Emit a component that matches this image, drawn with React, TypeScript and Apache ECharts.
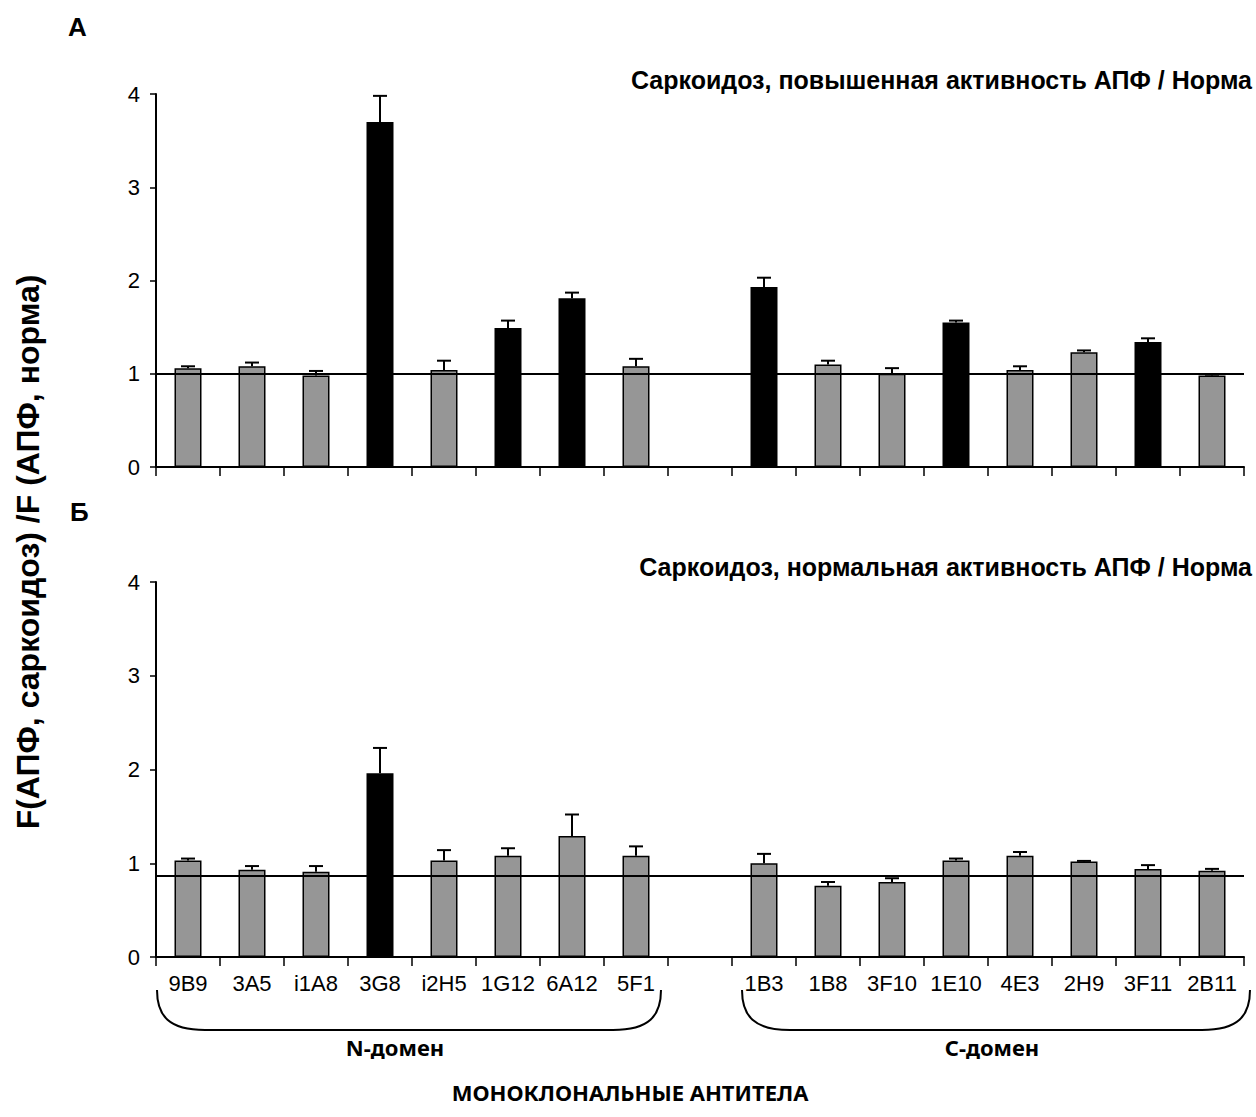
import React, { useEffect, useRef } from "react";
import * as echarts from "echarts";

const categories = ["9B9", "3A5", "i1A8", "3G8", "i2H5", "1G12", "6A12", "5F1", "", "1B3", "1B8", "3F10", "1E10", "4E3", "2H9", "3F11", "2B11"];
const yTicks = [0, 1, 2, 3, 4];

// Panel A: sarcoidosis, elevated ACE activity / norm
const topValues = [1.06, 1.08, 0.98, 3.70, 1.04, 1.49, 1.81, 1.08, null, 1.93, 1.10, 1.00, 1.55, 1.04, 1.23, 1.34, 0.98];
const topErrors = [0.02, 0.04, 0.05, 0.28, 0.10, 0.08, 0.06, 0.08, null, 0.10, 0.04, 0.06, 0.02, 0.04, 0.02, 0.04, 0.01];
const topSignificant = [false, false, false, true, false, true, true, false, false, true, false, false, true, false, false, true, false];
const topReference = 1.0;

// Panel B: sarcoidosis, normal ACE activity / norm
const bottomValues = [1.03, 0.93, 0.91, 1.96, 1.03, 1.08, 1.29, 1.08, null, 1.00, 0.76, 0.80, 1.03, 1.08, 1.02, 0.94, 0.92];
const bottomErrors = [0.02, 0.04, 0.06, 0.27, 0.11, 0.08, 0.23, 0.10, null, 0.10, 0.04, 0.04, 0.02, 0.04, 0.005, 0.04, 0.02];
const bottomSignificant = [false, false, false, true, false, false, false, false, false, false, false, false, false, false, false, false, false];
const bottomReference = 0.87;

const titleTop = "Саркоидоз, повышенная активность АПФ / Норма";
const titleBottom = "Саркоидоз, нормальная активность АПФ / Норма";
const yAxisTitle = "F(АПФ, саркоидоз) /F (АПФ, норма)";
const groupN = "N-домен";
const groupC = "С-домен";
const xAxisTitle = "МОНОКЛОНАЛЬНЫЕ АНТИТЕЛА";

const FONT = "'Liberation Sans', Arial, sans-serif";
const GRAY = "#969696";

echarts.graphic.registerShape(
  "braceN",
  echarts.graphic.extendPath("M0,0 C0,26 12,40 48,40 L456,40 C492,40 504,26 504,0", {})
);
echarts.graphic.registerShape(
  "braceC",
  echarts.graphic.extendPath("M0,0 C0,26 12,40 48,40 L460,40 C496,40 508,26 508,0", {})
);

function barData(values: (number | null)[], sig: boolean[]) {
  return values.map((v, i) =>
    v === null
      ? null
      : {
          value: v,
          itemStyle: { color: sig[i] ? "#000000" : GRAY, borderColor: "#000", borderWidth: 1.5 },
        }
  );
}

function errData(values: (number | null)[], errs: (number | null)[]) {
  const out: number[][] = [];
  values.forEach((v, i) => {
    if (v !== null && errs[i] !== null) out.push([i, v, errs[i] as number]);
  });
  return out;
}

const renderErr = (params: any, api: any) => {
  const x = api.value(0);
  const v = api.value(1);
  const e = api.value(2);
  const base = api.coord([x, v]);
  const top = api.coord([x, v + e]);
  const hw = 7;
  return {
    type: "group",
    children: [
      { type: "line", shape: { x1: base[0], y1: base[1], x2: top[0], y2: top[1] }, style: { stroke: "#000", lineWidth: 2 } },
      { type: "line", shape: { x1: top[0] - hw, y1: top[1], x2: top[0] + hw, y2: top[1] }, style: { stroke: "#000", lineWidth: 2 } },
    ],
  };
};

export default function App() {
  const ref = useRef<HTMLDivElement>(null);
  useEffect(() => {
    if (!ref.current) return;
    const chart = echarts.init(ref.current, null, { renderer: "svg" });
    const xAxisBase = (gridIndex: number, showLabel: boolean) => ({
      type: "category",
      gridIndex,
      data: categories,
      boundaryGap: true,
      axisLine: { show: true, lineStyle: { color: "#000", width: 2 } },
      axisTick: { show: true, inside: false, length: 9, interval: 0, alignWithLabel: false, lineStyle: { color: "#000", width: 1.5 } },
      axisLabel: { show: showLabel, interval: 0, color: "#000", fontSize: 22, fontFamily: FONT, margin: 15 },
      splitLine: { show: false },
    });
    const yAxisBase = (gridIndex: number) => ({
      type: "value",
      gridIndex,
      min: yTicks[0],
      max: yTicks[yTicks.length - 1],
      interval: 1,
      axisLine: { show: true, lineStyle: { color: "#000", width: 2 } },
      axisTick: { show: true, inside: false, length: 6, lineStyle: { color: "#000", width: 1.5 } },
      axisLabel: { color: "#000", fontSize: 22, fontFamily: FONT, margin: 16 },
      splitLine: { show: false },
    });
    const markLine = (y: number) => ({
      silent: true,
      symbol: "none",
      label: { show: false },
      lineStyle: { color: "#000", width: 2, type: "solid" },
      data: [{ yAxis: y }],
    });
    chart.setOption({
      animation: false,
      backgroundColor: "#fff",
      grid: [
        { left: 156, top: 94, width: 1088, height: 373 },
        { left: 156, top: 582, width: 1088, height: 375 },
      ],
      xAxis: [xAxisBase(0, false), xAxisBase(1, true)],
      yAxis: [yAxisBase(0), yAxisBase(1)],
      series: [
        {
          type: "bar",
          xAxisIndex: 0,
          yAxisIndex: 0,
          barWidth: 27,
          data: barData(topValues, topSignificant),
          markLine: markLine(topReference),
        },
        {
          type: "custom",
          xAxisIndex: 0,
          yAxisIndex: 0,
          renderItem: renderErr,
          encode: { x: 0, y: 1 },
          data: errData(topValues, topErrors),
          z: 3,
        },
        {
          type: "bar",
          xAxisIndex: 1,
          yAxisIndex: 1,
          barWidth: 27,
          data: barData(bottomValues, bottomSignificant),
          markLine: markLine(bottomReference),
        },
        {
          type: "custom",
          xAxisIndex: 1,
          yAxisIndex: 1,
          renderItem: renderErr,
          encode: { x: 0, y: 1 },
          data: errData(bottomValues, bottomErrors),
          z: 3,
        },
      ],
      graphic: [
        { type: "text", left: 68, top: 14, style: { text: "А", font: `bold 26px ${FONT}`, fill: "#000" } },
        { type: "text", left: 70, top: 499, style: { text: "Б", font: `bold 26px ${FONT}`, fill: "#000" } },
        { type: "text", x: 1252, y: 80, style: { text: titleTop, font: `bold 25px ${FONT}`, fill: "#000", align: "right", verticalAlign: "middle" } },
        { type: "text", x: 1252, y: 567, style: { text: titleBottom, font: `bold 25px ${FONT}`, fill: "#000", align: "right", verticalAlign: "middle" } },
        {
          type: "text",
          x: 28,
          y: 552,
          rotation: Math.PI / 2,
          style: { text: yAxisTitle, font: `bold 32px ${FONT}`, fill: "#000", align: "center", verticalAlign: "middle" },
        },
        { type: "braceN", x: 157, y: 990, style: { stroke: "#000", fill: "none", lineWidth: 2 } },
        { type: "braceC", x: 742, y: 990, style: { stroke: "#000", fill: "none", lineWidth: 2 } },
        { type: "text", x: 395, y: 1047, style: { text: groupN, font: `bold 22px 'Noto Sans', sans-serif`, fill: "#000", align: "center", verticalAlign: "middle" } },
        { type: "text", x: 992, y: 1047, style: { text: groupC, font: `bold 22px 'Noto Sans', sans-serif`, fill: "#000", align: "center", verticalAlign: "middle" } },
        { type: "text", x: 630, y: 1092, style: { text: xAxisTitle, font: `bold 22px 'Noto Sans', sans-serif`, fill: "#000", align: "center", verticalAlign: "middle" } },
      ],
    });
    return () => chart.dispose();
  }, []);
  return <div ref={ref} style={{ position: "absolute", left: 0, top: 0, width: 1256, height: 1117 }} />;
}
